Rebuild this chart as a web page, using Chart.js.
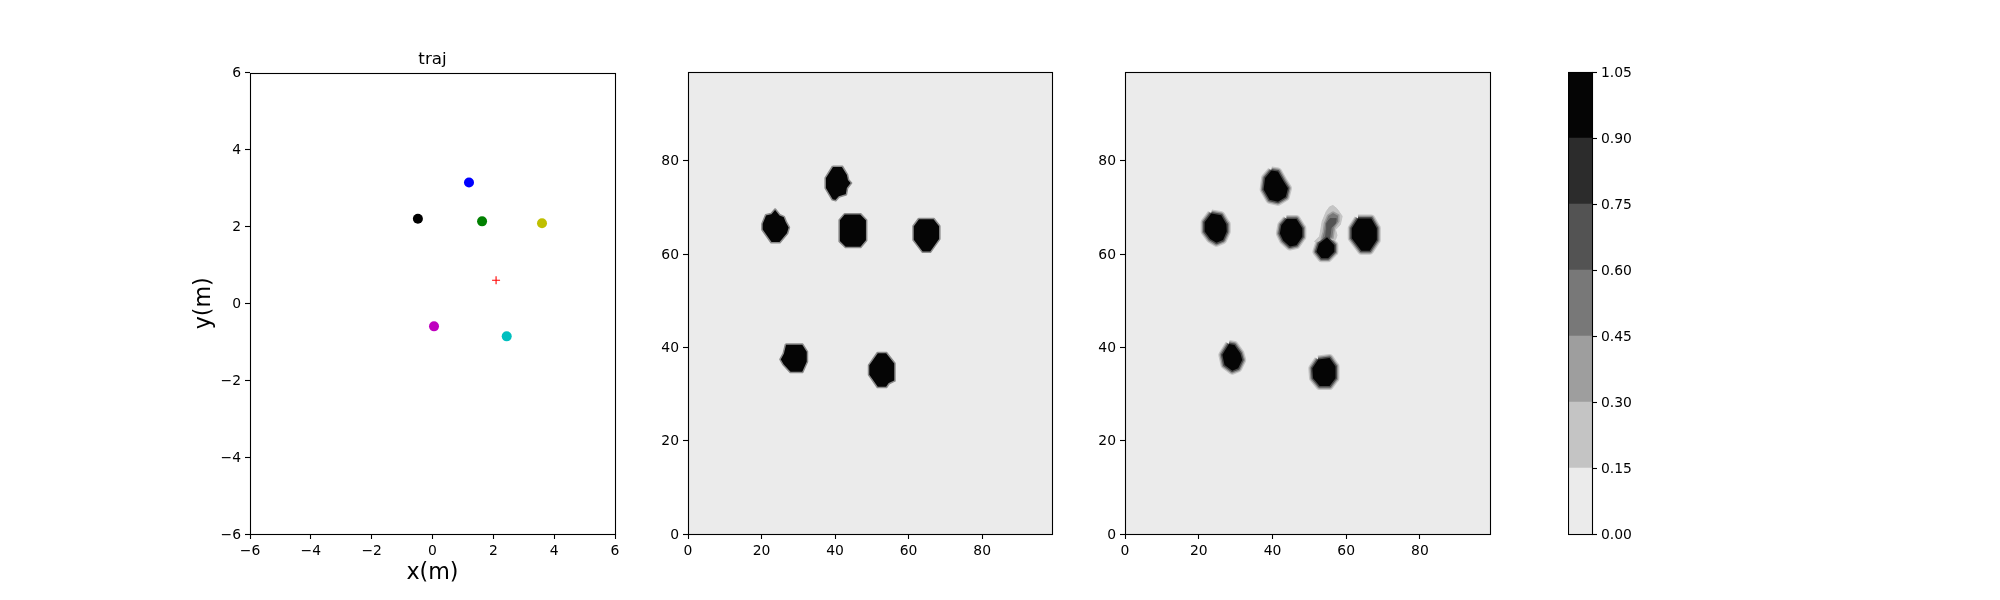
<!DOCTYPE html>
<html>
<head>
<meta charset="utf-8">
<title>traj</title>
<script src="https://cdn.jsdelivr.net/npm/chart.js@4"></script>
<style>
html,body{margin:0;padding:0;background:#fff;}
body{width:2000px;height:600px;position:relative;overflow:hidden;}
canvas{position:absolute;top:0;}
</style>
</head>
<body>
<canvas id="traj"></canvas>
<canvas id="mapA"></canvas>
<canvas id="mapB"></canvas>
<canvas id="cbar"></canvas>
<script>
// readings from the picture
const agentX=[1.2,-0.48,1.63,3.6,0.05,2.44];
const agentY=[3.14,2.2,2.13,2.08,-0.6,-0.86];
const agentColors=['#0000ff','#000000','#008000','#bfbf00','#bf00bf','#00bfbf'];
const targetX=[2.09];
const targetY=[0.6];
const trajTicks=[-6,-4,-2,0,2,4,6];
const mapTicks=[0,20,40,60,80];
const mapMax=99;
const mapBack=[[0,0],[99,0],[99,99],[0,99]];

// middle panel, outlines of the blobs
const blobsA=[
  [[23.7,69.7],[25,68.4],[26.2,68],[26.7,67],[27.6,65.7],[27.1,64.4],[25,62.4],[22.6,62.4],[20.1,65.2],[20.1,66.5],[21.1,68.4],[22.6,68.7]],
  [[39.3,78.8],[42,78.8],[43.4,77],[43.7,75.9],[44.5,75.2],[43.4,74.1],[43.1,72.7],[41.1,72.2],[40.2,71.4],[39.2,71.6],[37.3,74.1],[37.3,76.3]],
  [[42.5,68.6],[47,68.6],[48.6,67.3],[48.6,62.9],[47,61.4],[42.8,61.4],[41.1,62.7],[41.1,67.3]],
  [[62.7,67.6],[66.9,67.6],[68.5,66],[68.5,63.2],[66,60.4],[63.7,60.4],[61.2,63],[61.2,66]],
  [[26.5,40.7],[31.2,40.7],[32.5,39.1],[32.5,36.9],[31.2,34.6],[27.8,34.6],[25.9,36.2],[25,37.4],[25.9,38.7]],
  [[51.5,38.9],[54,38.9],[56.3,36.6],[56.3,32.8],[54.7,32.2],[54,31.4],[51.5,31.4],[49.1,34.1],[49.1,36.2]]
];

// right panel, the black core of each blob
const blobsB=[
  [[23.4,68.7],[26.1,68.3],[27.5,66.4],[27.6,64.8],[26.6,63],[24.8,62.4],[23.1,63.2],[21.6,64.8],[21.6,66.8]],
  [[39.7,77.9],[41.5,77.7],[43,75.6],[44.2,74.1],[43.6,72.2],[41.5,71.2],[39.2,71.6],[37.6,73.8],[38,76.3]],
  [[43.8,67.5],[46.5,67.5],[48.1,65.5],[48.1,63.7],[46.5,61.9],[44.7,61.6],[42.9,62.9],[42,64.4],[42.4,66.2]],
  [[63.2,67.6],[66.8,67.6],[68.3,65.5],[68.3,63],[66.4,60.7],[64.1,60.7],[61.5,63.4],[61.5,65.5]],
  [[54.8,63.6],[56.8,61.9],[56.8,60.5],[55.1,59.1],[53.3,59.1],[51.9,60.5],[52.6,62.2]],
  [[28.2,40.7],[29.7,40.5],[31.3,38.7],[31.8,37.3],[30.7,35.5],[29.1,35],[27,36.2],[26.4,38.4]],
  [[52.4,37.4],[55.5,37.7],[57.1,35.9],[57.1,33.4],[55.5,31.7],[52.8,31.7],[51,33.4],[50.8,35.5]]
];
const plumeLight=[[56.4,70.4],[57.5,69.7],[58.9,68.1],[58.4,66.3],[57.1,65.2],[57.5,64],[57.1,63.1],[51.4,62.7],[52.8,63.8],[53.5,67],[54.6,69.1],[55.5,70.1]];
const plumeMid=[[56.4,69],[58,68.3],[58,67],[56.8,65.6],[56.4,63.4],[53.2,63.1],[53.8,64.8],[54.1,66.6],[55,68.3]];
const plumeDark=[[55.6,67.6],[57.3,67.6],[57.1,66.6],[55.9,65.6],[55.5,63.4],[54.4,63.4],[54.6,65.2],[54.7,66.6]];

const levels=[0,0.15,0.3,0.45,0.6,0.75,0.9,1.05];
const levelColors=['#ebebeb','#c4c4c4','#9e9e9e','#787878','#535353','#2c2c2c','#050505'];

const FONT='"DejaVu Sans"';
Chart.defaults.font.family=FONT;
Chart.defaults.font.size=13.9;
Chart.defaults.color='#000';

const frame={
  id:'frame',
  afterDatasetsDraw(chart){
    const a=chart.chartArea,c=chart.ctx;
    c.save();
    c.strokeStyle='#000';
    c.lineWidth=1.1;
    c.strokeRect(Math.round(a.left)+0.5,Math.round(a.top)+0.5,Math.round(a.width),Math.round(a.height));
    c.restore();
  }
};

function minus(v){return String(v).replace('-','\u2212');}

function axis(ticks,fixed,title){
  return {
    type:'linear',
    min:ticks.min,max:ticks.max,
    afterBuildTicks(s){s.ticks=ticks.list.map(v=>({value:v}));},
    afterFit(s){
      if(s.isHorizontal()) s.height=fixed; else s.width=fixed;
    },
    grid:{drawOnChartArea:false,tickLength:5,tickColor:'#000',tickWidth:1.1},
    border:{display:false},
    ticks:{autoSkip:false,maxRotation:0,padding:4,callback:minus},
    title:title||{display:false}
  };
}

// y labels sit a pixel lower in the original
function yAxis(ticks,fixed,title){
  const a=axis(ticks,fixed,title);
  a.ticks.labelOffset=1;
  return a;
}

function closed(pts){
  const d=pts.map(p=>({x:p[0],y:p[1]}));
  d.push(d[0]);
  return d;
}

function poly(pts,color,edge,edgeWidth){
  return {
    type:'line',
    data:closed(pts),
    fill:'shape',
    backgroundColor:color,
    borderColor:edge||color,
    borderWidth:edgeWidth||0,
    borderJoinStyle:'round',
    pointRadius:0,
    tension:0
  };
}

function ring(pts,color,w){
  return {
    type:'line',
    data:closed(pts),
    fill:false,
    borderColor:color,
    borderWidth:w,
    borderJoinStyle:'round',
    pointRadius:0,
    tension:0
  };
}

// chart.js paints the lowest order last, so keep the list in paint order
function inPaintOrder(list){
  list.forEach((d,i)=>{d.order=list.length-i;});
  return list;
}

function makeChart(id,left,width,cfg){
  const el=document.getElementById(id);
  el.width=width;
  el.height=600;
  el.style.left=left+'px';
  cfg.options.responsive=false;
  cfg.options.animation=false;
  cfg.options.devicePixelRatio=1;
  cfg.plugins=[frame];
  cfg.options.plugins=Object.assign({legend:{display:false},tooltip:{enabled:false}},cfg.options.plugins);
  return new Chart(el,cfg);
}

// left panel
const agentPoints=agentX.map((x,i)=>({x:x,y:agentY[i]}));
const targetPoints=targetX.map((x,i)=>({x:x,y:targetY[i]}));
const trajRange={min:-6,max:6,list:trajTicks};
makeChart('traj',180,460,{
  type:'scatter',
  data:{datasets:[
    {data:targetPoints,pointStyle:'cross',pointRadius:4,borderColor:'#ff0000',borderWidth:1.1,backgroundColor:'#ff0000'},
    {data:agentPoints,pointRadius:5,pointBackgroundColor:agentColors,pointBorderWidth:0}
  ]},
  options:{
    layout:{padding:{top:49.5,right:25,bottom:0,left:0}},
    plugins:{title:{display:true,fullSize:false,text:'traj',font:{size:16.7,weight:'normal'},padding:{top:0,bottom:3},color:'#000'}},
    scales:{
      x:axis(trajRange,66,{display:true,text:'x(m)',font:{size:22.2},padding:{top:0,bottom:13}}),
      y:yAxis(trajRange,70,{display:true,text:'y(m)',font:{size:22.2},padding:{top:11,bottom:0}})
    }
  }
});

// middle panel
const mapRange={min:0,max:mapMax,list:mapTicks};
const setA=[poly(mapBack,levelColors[0])].concat(blobsA.map(b=>poly(b,levelColors[6],'#8c8c8c',1.5)));
makeChart('mapA',638,439,{
  type:'scatter',
  data:{datasets:inPaintOrder(setA)},
  options:{
    layout:{padding:{top:72,right:25,bottom:0,left:0}},
    scales:{x:axis(mapRange,66),y:yAxis(mapRange,50)}
  }
});

// right panel
let setB=[poly(mapBack,levelColors[0])];
blobsB.forEach(b=>{
  setB.push(ring(b,'#c4c4c4',8));
  setB.push(ring(b,'#8e8e8e',5.5));
});
setB.push(poly(plumeLight,levelColors[1],levelColors[1],1));
setB.push(poly(plumeMid,levelColors[3],levelColors[2],1.5));
setB.push(poly(plumeDark,levelColors[4],levelColors[4],1));
blobsB.forEach(b=>{
  setB.push(ring(b,'#4a4a4a',3));
  setB.push(poly(b,levelColors[6]));
});
makeChart('mapB',1075,440,{
  type:'scatter',
  data:{datasets:inPaintOrder(setB)},
  options:{
    layout:{padding:{top:72,right:25,bottom:0,left:0}},
    scales:{x:axis(mapRange,66),y:yAxis(mapRange,50)}
  }
});

// colour bar
const barSets=levelColors.map((c,i)=>({
  data:[[levels[i],levels[i+1]]],
  backgroundColor:c,
  borderWidth:0,
  barPercentage:1,
  categoryPercentage:1,
  grouped:false
}));
const cbarY=yAxis({min:0,max:1.05,list:levels},60);
cbarY.position='right';
cbarY.ticks.callback=v=>v.toFixed(2);
cbarY.ticks.labelOffset=1.5;
makeChart('cbar',1568,100,{
  type:'bar',
  data:{labels:['level'],datasets:barSets},
  options:{
    layout:{padding:{top:72,right:16,bottom:66,left:0}},
    scales:{x:{display:false},y:cbarY}
  }
});
</script>
</body>
</html>
